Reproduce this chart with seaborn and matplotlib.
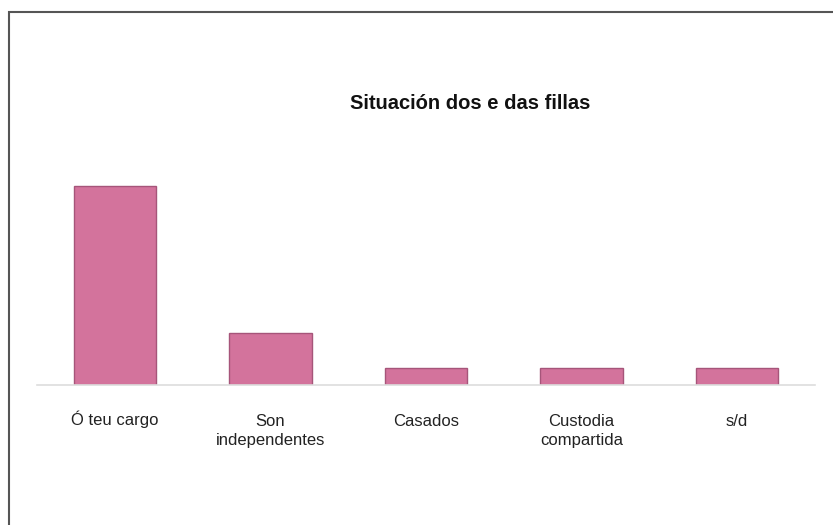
import matplotlib
matplotlib.use("Agg")
import matplotlib.pyplot as plt
import matplotlib.transforms as mtransforms
import seaborn as sns
import pandas as pd
from matplotlib.patches import Rectangle

categories = ["Ó teu cargo", "Son\nindependentes", "Casados", "Custodia\ncompartida", "s/d"]
values = [23, 6, 2, 2, 2]
title = "Situación dos e das fillas"

sns.set_theme(style="white")
plt.rcParams["font.family"] = ["Liberation Sans", "DejaVu Sans"]

df = pd.DataFrame({"cat": categories, "val": values})

fig = plt.figure(figsize=(8.33, 5.25), dpi=100)
ax = fig.add_axes([37 / 833, 140 / 525, 778 / 833, 242 / 525])

sns.barplot(data=df, x="cat", y="val", ax=ax, color="#d3739c",
            width=0.53, edgecolor="#a6557a", linewidth=1.0, saturation=1)

ax.set_ylim(0, 28)
ax.set_xlim(-0.5, len(categories) - 0.5)
ax.set_xlabel("")
ax.set_ylabel("")
ax.set_yticks([])
ax.tick_params(axis="x", length=0, pad=21, labelsize=12, colors="#222222")
for lbl in ax.get_xticklabels():
    lbl.set_linespacing(1.35)
# the accent on Ó pushes the first label down; lift it back in line
first = ax.xaxis.get_major_ticks()[0].label1
first.set_transform(first.get_transform() +
                    mtransforms.ScaledTranslation(0, 3.5 / 100, fig.dpi_scale_trans))
for s in ["top", "left", "right"]:
    ax.spines[s].set_visible(False)
ax.spines["bottom"].set_color("#dddddd")
ax.spines["bottom"].set_linewidth(1.2)

fig.text(470 / 833, 1 - 103 / 525, title, ha="center", va="center",
         fontsize=14.5, fontweight="bold", color="#111111")

fig.patches.append(Rectangle((9 / 833, -0.1), 1.2, 0.1 + 513 / 525,
                             transform=fig.transFigure, fill=False,
                             edgecolor="#555555", linewidth=1.5))

fig.savefig("out.png", dpi=100)
